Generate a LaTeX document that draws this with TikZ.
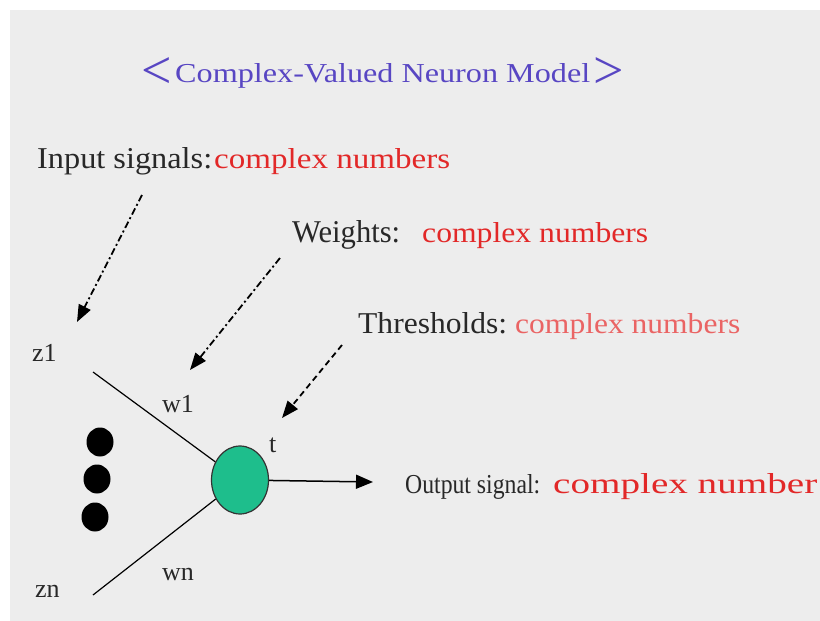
\documentclass[tikz,border=0pt]{standalone}
\usepackage{fontspec}
\setmainfont{Liberation Serif}
\usetikzlibrary{arrows.meta,shapes.geometric}
\definecolor{bg}{RGB}{237,237,237}
\definecolor{titleblue}{RGB}{88,70,195}
\definecolor{numred}{RGB}{226,40,40}
\definecolor{numpink}{RGB}{234,100,100}
\definecolor{neurongreen}{RGB}{30,190,140}
\definecolor{txtgray}{RGB}{40,40,40}
\newcommand{\fitbox}[3]{\resizebox{#1pt}{#2pt}{#3}}
\begin{document}
\begin{tikzpicture}[x=1pt,y=-1pt,
  lbl/.style={inner sep=0pt,anchor=base west,text=txtgray},
  sym/.style={inner sep=0pt,anchor=base west,text=txtgray,font=\fontsize{26}{26}\selectfont},
  ptr/.style={line width=1.8pt,-{Triangle[length=17pt,width=13pt]}},
  dashdot/.style={dash pattern=on 7pt off 3pt on 2pt off 3pt},
  dashonly/.style={dash pattern=on 6pt off 4pt},
  wire/.style={line width=1.2pt},
  blob/.style={ellipse,fill=black,minimum width=27pt,minimum height=29pt,inner sep=0pt}
]
\useasboundingbox (0,0) rectangle (820,621);
\fill[bg] (10,10) rectangle (820,621);

% title
\node[inner sep=0pt,text=titleblue,font=\fontsize{54}{54}\selectfont] (tl) at (157,73) {<};
\node[lbl,text=titleblue] (title) at (175,82) {\fitbox{415}{19}{Complex-Valued Neuron Model}};
\node[inner sep=0pt,text=titleblue,font=\fontsize{54}{54}\selectfont] (tr) at (609,73) {>};

% labels
\node[lbl] (inlab) at (37,168) {\fitbox{175}{21}{Input signals:}};
\node[lbl,text=numred] (innum) at (214,168) {\fitbox{236}{20}{complex numbers}};
\node[lbl] (wlab) at (292,242) {\fitbox{108}{22}{Weights:}};
\node[lbl,text=numred] (wnum) at (422,242) {\fitbox{226}{20}{complex numbers}};
\node[lbl] (tlab) at (358,333) {\fitbox{149}{21}{Thresholds:}};
\node[lbl,text=numpink] (tnum) at (515,333) {\fitbox{225}{20}{complex numbers}};
\node[lbl] (olab) at (405,493) {\fitbox{135}{19}{Output signal:}};
\node[lbl,text=numred] (onum) at (553,493) {\fitbox{264}{20}{complex number}};

% symbols
\node[sym] (z1) at (32,361) {z1};
\node[sym] (zn) at (35,597) {zn};
\node[sym] (w1) at (162,412) {w1};
\node[sym] (wn) at (162,580) {wn};
\node[sym] (t) at (269,452) {t};

% neuron
\node[ellipse,draw=black!80,line width=1.2pt,fill=neurongreen,minimum width=57pt,minimum height=68pt,inner sep=0pt] (neuron) at (240,480) {};

% dots
\node[blob] (d1) at (100,442) {};
\node[blob] (d2) at (97,479) {};
\node[blob] (d3) at (95,517) {};

% input wires
\coordinate (z1s) at (93,372);
\coordinate (zns) at (93,595);
\draw[wire] (z1s) -- (neuron);
\draw[wire] (zns) -- (neuron);

% output
\coordinate (out) at (373,482);
\draw[line width=1.5pt,-{Triangle[length=17pt,width=14pt]}] (neuron) -- (out);

% pointer arrows
\coordinate (ins) at (142,195);
\coordinate (inend) at (77,322);
\draw[ptr,dashdot] (ins) -- (inend);
\coordinate (ws) at (280,258);
\coordinate (wend) at (190,370);
\draw[ptr,dashdot] (ws) -- (wend);
\coordinate (ts) at (342,345);
\coordinate (tend) at (282,418);
\draw[ptr,dashonly] (ts) -- (tend);
\end{tikzpicture}
\end{document}
